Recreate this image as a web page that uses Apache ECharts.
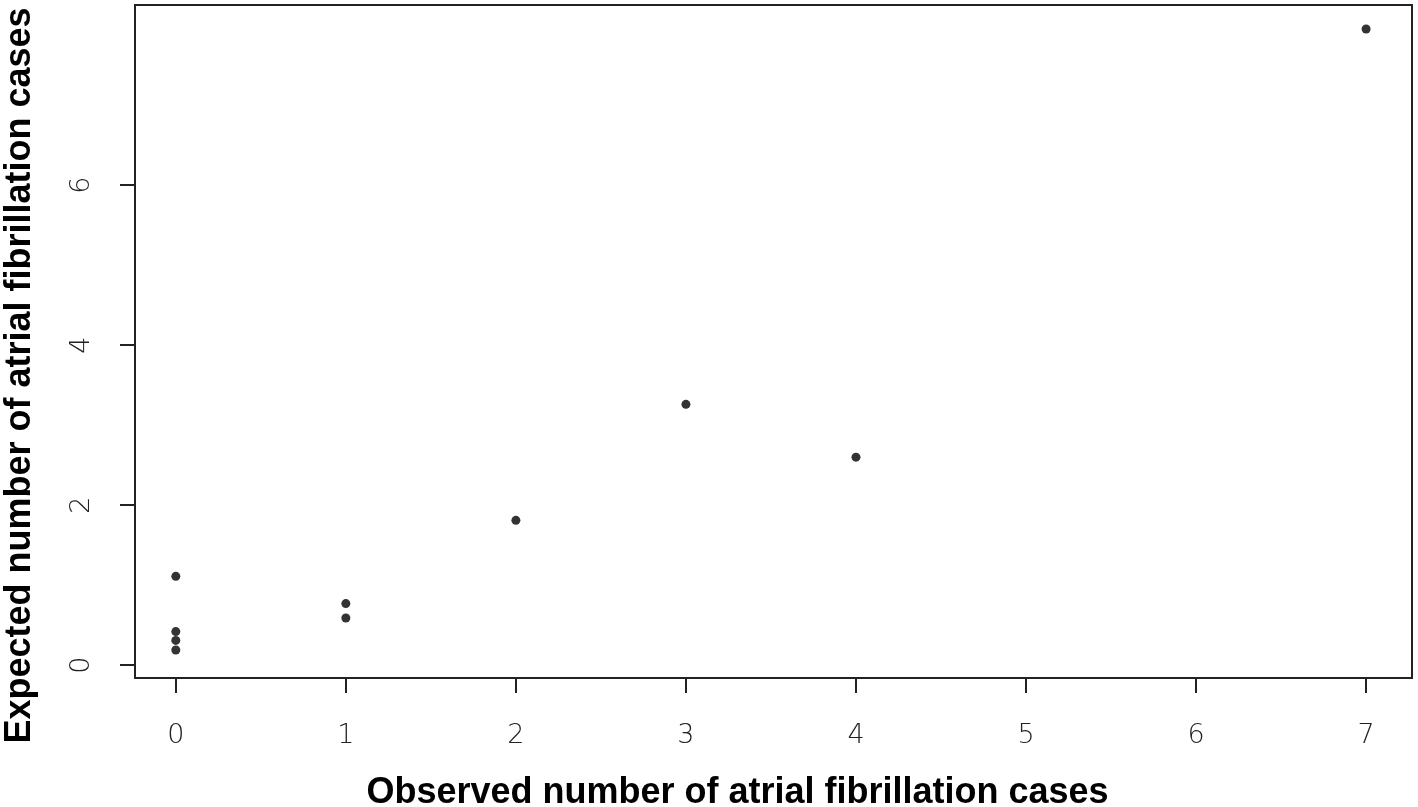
<!DOCTYPE html>
<html>
<head>
<meta charset="utf-8">
<script src="https://cdn.jsdelivr.net/npm/echarts@6/dist/echarts.min.js"></script>
<style>
  html, body { margin: 0; padding: 0; background: #fff; }
  #main { width: 1418px; height: 807px; }
</style>
</head>
<body>
<div id="main"></div>
<script>
// observed vs expected AF cases
var observed = [0, 0, 0, 0, 1, 1, 2, 3, 4, 7];
var expected = [1.11, 0.42, 0.31, 0.19, 0.77, 0.59, 1.81, 3.26, 2.60, 7.95];
var xTicks = [0, 1, 2, 3, 4, 5, 6, 7];
var yTicks = [0, 2, 4, 6];

var chart = echarts.init(document.getElementById('main'));

var points = [];
for (var i = 0; i < observed.length; i++) {
    points.push([observed[i], expected[i]]);
}

var tickFont = { fontFamily: 'DejaVu Sans', fontWeight: 200, fontSize: 27, color: '#222' };

var option = {
    animation: false,
    backgroundColor: '#fff',
    grid: {
        left: 135, right: 6, top: 5, bottom: 129,
        outerBoundsMode: 'none',
        show: true,
        borderColor: '#222',
        borderWidth: 2
    },
    xAxis: {
        type: 'value',
        min: -0.24,
        max: 7.27,
        name: 'Observed number of atrial fibrillation cases',
        nameLocation: 'middle',
        nameGap: 97,
        nameTextStyle: {
            fontFamily: 'Liberation Sans', fontWeight: 'bold', fontSize: 36, color: '#000',
            padding: [0, 72, 0, 0]
        },
        splitLine: { show: false },
        axisLine: { show: true, onZero: false, lineStyle: { color: '#222', width: 2 } },
        axisTick: { show: true, length: 15, customValues: xTicks, lineStyle: { color: '#222', width: 2 } },
        axisLabel: Object.assign({ customValues: xTicks, margin: 44 }, tickFont)
    },
    yAxis: {
        type: 'value',
        min: -0.16,
        max: 8.25,
        name: 'Expected number of atrial fibrillation cases',
        nameLocation: 'middle',
        nameGap: 97,
        nameTextStyle: {
            fontFamily: 'Liberation Sans', fontWeight: 'bold', fontSize: 36, color: '#000',
            padding: [0, 68, 0, 0]
        },
        splitLine: { show: false },
        axisLine: { show: true, onZero: false, lineStyle: { color: '#222', width: 2 } },
        axisTick: { show: true, length: 15, customValues: yTicks, lineStyle: { color: '#222', width: 2 } },
        axisLabel: Object.assign({ customValues: yTicks, margin: 40, rotate: 90 }, tickFont)
    },
    series: [
        {
            type: 'scatter',
            data: points,
            symbol: 'circle',
            symbolSize: 9,
            itemStyle: { color: '#000' }
        }
    ]
};
chart.setOption(option);
</script>
</body>
</html>
